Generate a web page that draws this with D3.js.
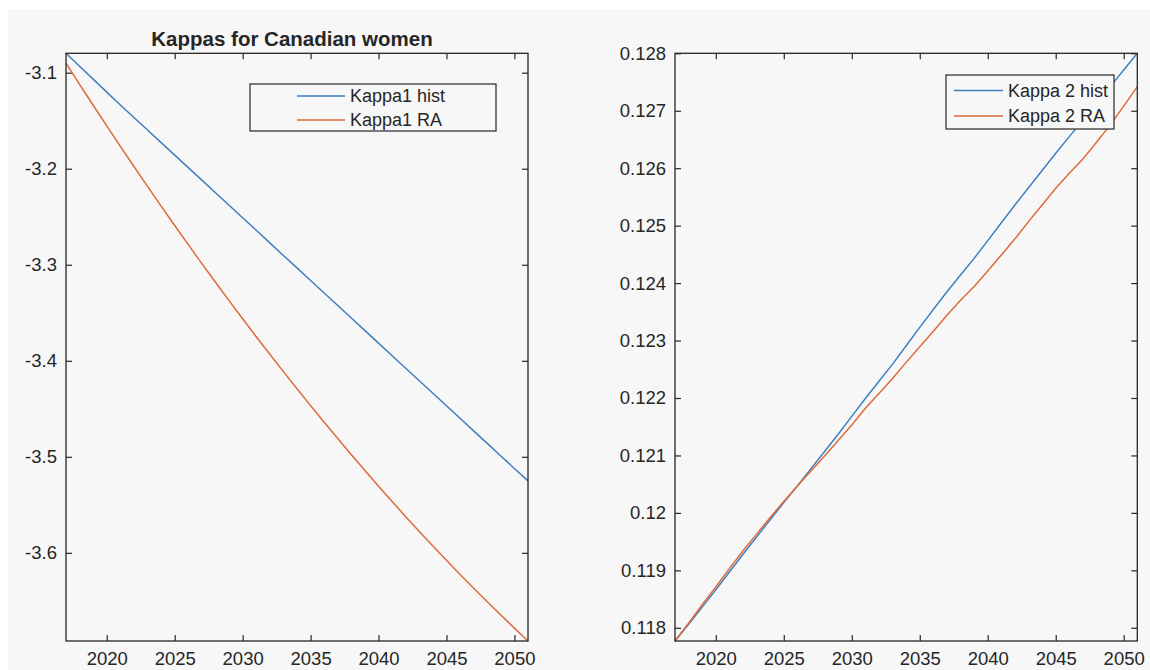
<!DOCTYPE html>
<html>
<head>
<meta charset="utf-8">
<script src="https://cdn.jsdelivr.net/npm/d3@7"></script>
<style>
  html, body { margin: 0; padding: 0; background: #ffffff; }
  svg { display: block; }
  text { font-family: "Liberation Sans", Arial, Helvetica, sans-serif; fill: #262626; }
</style>
</head>
<body>
<svg id="fig" width="1150" height="670"></svg>
<script>
// Projection years
const years = [2017, 2018, 2019, 2020, 2021, 2022, 2023, 2024, 2025, 2026, 2027, 2028,
  2029, 2030, 2031, 2032, 2033, 2034, 2035, 2036, 2037, 2038, 2039, 2040, 2041, 2042,
  2043, 2044, 2045, 2046, 2047, 2048, 2049, 2050, 2051];

// Kappa 1 (period index level)
const kappa1Hist = [-3.0798, -3.0933, -3.1067, -3.1202, -3.1336, -3.1467, -3.1597, -3.1728,
  -3.1858, -3.1989, -3.2119, -3.2250, -3.2380, -3.2511, -3.2641, -3.2772, -3.2903, -3.3033,
  -3.3164, -3.3294, -3.3425, -3.3555, -3.3686, -3.3816, -3.3947, -3.4077, -3.4208, -3.4338,
  -3.4469, -3.4599, -3.4730, -3.4860, -3.4991, -3.5121, -3.5250];
const kappa1RA = [-3.0900, -3.1121, -3.1339, -3.1554, -3.1767, -3.1977, -3.2184, -3.2389,
  -3.2591, -3.2791, -3.2988, -3.3182, -3.3373, -3.3562, -3.3749, -3.3932, -3.4113, -3.4291,
  -3.4467, -3.4640, -3.4810, -3.4978, -3.5143, -3.5306, -3.5465, -3.5623, -3.5777, -3.5929,
  -3.6078, -3.6225, -3.6368, -3.6510, -3.6648, -3.6784, -3.6918];

// Kappa 2 (age-slope index)
const kappa2Hist = [0.11777, 0.11806, 0.11836, 0.11866, 0.11897, 0.11928, 0.11958, 0.11988,
  0.12018, 0.12047, 0.12077, 0.12107, 0.12137, 0.12168, 0.12199, 0.12229, 0.12259, 0.12291,
  0.12323, 0.12354, 0.12385, 0.12414, 0.12443, 0.12474, 0.12505, 0.12536, 0.12566, 0.12596,
  0.12626, 0.12655, 0.12684, 0.12713, 0.12742, 0.12771, 0.12800];
const kappa2RA = [0.11777, 0.11808, 0.11840, 0.11871, 0.11903, 0.11934, 0.11963, 0.11992,
  0.12020, 0.12047, 0.12073, 0.12099, 0.12126, 0.12153, 0.12182, 0.12208, 0.12234, 0.12262,
  0.12289, 0.12316, 0.12344, 0.12370, 0.12394, 0.12421, 0.12449, 0.12477, 0.12507, 0.12536,
  0.12565, 0.12591, 0.12616, 0.12645, 0.12675, 0.12708, 0.12742];

// Tick values
const xTicks = [2020, 2025, 2030, 2035, 2040, 2045, 2050];
const yTicksLeft = [-3.6, -3.5, -3.4, -3.3, -3.2, -3.1];
const yTicksRight = [0.118, 0.119, 0.12, 0.121, 0.122, 0.123, 0.124, 0.125, 0.126, 0.127, 0.128];

// Text
const titleLeft = "Kappas for Canadian women";
const legendLeft = ["Kappa1 hist", "Kappa1 RA"];
const legendRight = ["Kappa 2 hist", "Kappa 2 RA"];

const BLUE = "#3f7fbf";
const ORANGE = "#de6a3c";
const INK = "#262626";
const BG = "#f7f7f7";

const svg = d3.select("#fig");
svg.append("rect").attr("x", 8).attr("y", 9).attr("width", 1142).attr("height", 661).attr("fill", BG);

function panel(opts) {
  const { left, top, width, height, series, yTicks, legend } = opts;
  const g = svg.append("g").attr("transform", `translate(${left},${top})`);

  const x = d3.scaleLinear().domain(d3.extent(years)).range([0, width]);
  const allY = series.flatMap(s => s.values);
  const y = d3.scaleLinear().domain(d3.extent(allY)).range([height, 0]);

  const clipId = "clip-" + left;
  g.append("clipPath").attr("id", clipId)
    .append("rect").attr("x", -1).attr("y", -1).attr("width", width + 2).attr("height", height + 2);

  const fmt = v => String(v);

  const axStyle = sel => {
    sel.select(".domain").remove();
    sel.selectAll(".tick line").attr("stroke", INK).attr("stroke-width", 1.2);
    sel.selectAll(".tick text").attr("fill", INK).style("font-size", "18.5px")
      .style("font-family", '"Liberation Sans", Arial, sans-serif');
  };

  g.append("g").attr("transform", `translate(0,${height})`)
    .call(d3.axisBottom(x).tickValues(xTicks).tickFormat(fmt).tickSizeInner(-6).tickSizeOuter(0).tickPadding(11))
    .call(axStyle);
  g.append("g")
    .call(d3.axisTop(x).tickValues(xTicks).tickFormat("").tickSizeInner(-6).tickSizeOuter(0))
    .call(axStyle);
  g.append("g")
    .call(d3.axisLeft(y).tickValues(yTicks).tickFormat(fmt).tickSizeInner(-6).tickSizeOuter(0).tickPadding(9))
    .call(axStyle);
  g.append("g").attr("transform", `translate(${width},0)`)
    .call(d3.axisRight(y).tickValues(yTicks).tickFormat("").tickSizeInner(-6).tickSizeOuter(0))
    .call(axStyle);

  const line = d3.line().x((d, i) => x(years[i])).y(d => y(d));
  series.forEach(s => {
    g.append("path").datum(s.values)
      .attr("clip-path", `url(#${clipId})`)
      .attr("fill", "none").attr("stroke", s.color).attr("stroke-width", 1.5)
      .attr("stroke-linejoin", "round")
      .attr("d", line);
  });

  g.append("rect").attr("width", width).attr("height", height)
    .attr("fill", "none").attr("stroke", INK).attr("stroke-width", 1.3);

  // legend
  const lg = svg.append("g").attr("transform", `translate(${legend.x},${legend.y})`);
  lg.append("rect").attr("width", legend.w).attr("height", legend.h)
    .attr("fill", BG).attr("stroke", INK).attr("stroke-width", 1.2);
  series.forEach((s, i) => {
    const cy = legend.rows[i];
    lg.append("line").attr("x1", legend.lx0).attr("x2", legend.lx1).attr("y1", cy).attr("y2", cy)
      .attr("stroke", s.color).attr("stroke-width", 1.5);
    lg.append("text").attr("x", legend.tx).attr("y", cy).attr("dy", "0.35em")
      .style("font-size", "18px").text(s.name);
  });
  return g;
}

panel({
  left: 66, top: 53.3, width: 462, height: 587.7,
  series: [
    { name: legendLeft[0], values: kappa1Hist, color: BLUE },
    { name: legendLeft[1], values: kappa1RA, color: ORANGE }
  ],
  yTicks: yTicksLeft,
  legend: { x: 250, y: 84, w: 246, h: 47, rows: [12, 36], lx0: 47, lx1: 95, tx: 100 }
});

panel({
  left: 675, top: 53.3, width: 462.3, height: 587.7,
  series: [
    { name: legendRight[0], values: kappa2Hist, color: BLUE },
    { name: legendRight[1], values: kappa2RA, color: ORANGE }
  ],
  yTicks: yTicksRight,
  legend: { x: 946, y: 75, w: 168, h: 54, rows: [15.5, 41], lx0: 8, lx1: 57, tx: 62 }
});

svg.append("text").attr("x", 292).attr("y", 46).attr("text-anchor", "middle")
  .style("font-size", "20.5px").style("font-weight", "bold").text(titleLeft);
</script>
</body>
</html>
